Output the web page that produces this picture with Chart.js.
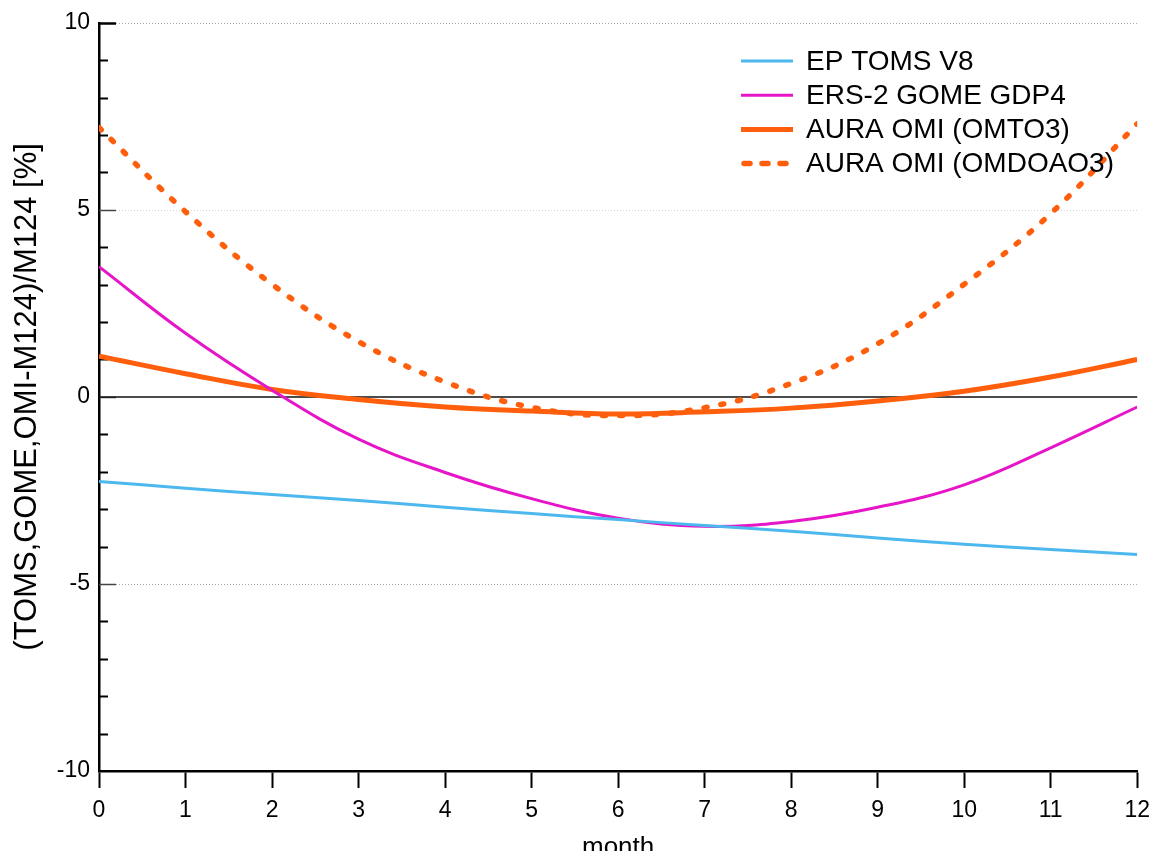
<!DOCTYPE html>
<html>
<head>
<meta charset="utf-8">
<script src="https://cdn.jsdelivr.net/npm/chart.js"></script>
<style>
  html, body { margin: 0; padding: 0; background: #fff; }
  canvas { display: block; }
</style>
</head>
<body>
<canvas id="chart" width="1159" height="851"></canvas>
<script>
// month of year
const months = [0, 1, 2, 3, 4, 5, 6, 7, 8, 9, 10, 11, 12];

// relative differences in %
const tomsV8  = [-2.26, -2.44, -2.61, -2.77, -2.95, -3.12, -3.28, -3.44, -3.59, -3.77, -3.94, -4.08, -4.21];
const gomeGdp4 = [3.48, 1.70, 0.18, -1.13, -2.02, -2.72, -3.24, -3.46, -3.33, -2.95, -2.35, -1.36, -0.27];
const omto3   = [1.09, 0.62, 0.20, -0.07, -0.27, -0.38, -0.46, -0.40, -0.30, -0.11, 0.15, 0.53, 1.00];
const omdoao3 = [7.20, 4.95, 3.01, 1.48, 0.40, -0.28, -0.50, -0.29, 0.36, 1.42, 3.01, 4.90, 7.30];

const yTicks = [-10, -5, 0, 5, 10];

const FONT = '"Liberation Sans", Arial, Helvetica, sans-serif';

function pts(vals) {
  return months.map((m, i) => ({x: m, y: vals[i]}));
}

// y axis: dotted grid, zero line and inward minor/major ticks
const yDecor = {
  id: 'yDecor',
  beforeDatasetsDraw(chart) {
    const ctx = chart.ctx;
    const y = chart.scales.y;
    const a = chart.chartArea;
    ctx.save();
    for (let v = -9; v <= 10; v++) {
      const py = Math.round(y.getPixelForValue(v)) + 0.5;
      const major = v % 5 === 0;
      if (major && v !== 0) {
        ctx.setLineDash([1, 2]);
        ctx.strokeStyle = v === 5 ? '#d4d4d4' : '#a8a8a8';
        ctx.lineWidth = 1;
        ctx.beginPath();
        ctx.moveTo(a.left + 17, py);
        ctx.lineTo(a.right, py);
        ctx.stroke();
        ctx.setLineDash([]);
      }
      ctx.strokeStyle = v === 10 ? '#000' : (major ? '#444' : '#000');
      ctx.lineWidth = v === 10 ? 2.5 : (major ? 1.5 : 2);
      ctx.beginPath();
      ctx.moveTo(a.left, py);
      ctx.lineTo(a.left + (major ? 17 : 9), py);
      ctx.stroke();
    }
    const p0 = y.getPixelForValue(0);
    ctx.strokeStyle = '#111';
    ctx.lineWidth = 1.5;
    ctx.beginPath();
    ctx.moveTo(a.left, p0);
    ctx.lineTo(a.right, p0);
    ctx.stroke();
    ctx.restore();
  }
};

// legend in the top right corner of the plot
const cornerLegend = {
  id: 'cornerLegend',
  afterDatasetsDraw(chart) {
    const ctx = chart.ctx;
    const x0 = 741, x1 = 793, tx = 806, top = 61, step = 34.2;
    ctx.save();
    ctx.font = '28px ' + FONT;
    ctx.textBaseline = 'middle';
    ctx.fillStyle = '#000';
    chart.data.datasets.forEach((ds, i) => {
      const yy = top + i * step;
      const dashed = ds.borderDash && ds.borderDash.length;
      ctx.strokeStyle = ds.borderColor;
      ctx.lineWidth = ds.borderWidth;
      ctx.setLineDash(dashed ? [6, 12] : []);
      ctx.lineCap = dashed ? 'round' : 'butt';
      ctx.beginPath();
      ctx.moveTo(dashed ? x0 + 3 : x0, yy);
      ctx.lineTo(x1, yy);
      ctx.stroke();
      ctx.fillText(ds.label, tx, yy + 1);
    });
    ctx.restore();
  }
};

new Chart(document.getElementById('chart'), {
  type: 'line',
  data: {
    datasets: [
      {
        label: 'EP TOMS V8',
        data: pts(tomsV8),
        borderColor: '#4cb8ee',
        borderWidth: 3
      },
      {
        label: 'ERS-2 GOME GDP4',
        data: pts(gomeGdp4),
        borderColor: '#e616c8',
        borderWidth: 3
      },
      {
        label: 'AURA OMI (OMTO3)',
        data: pts(omto3),
        borderColor: '#ff5f0c',
        borderWidth: 5
      },
      {
        label: 'AURA OMI (OMDOAO3)',
        data: pts(omdoao3),
        borderColor: '#ff5f0c',
        borderWidth: 5.5,
        borderDash: [3, 14],
        borderCapStyle: 'round'
      }
    ]
  },
  options: {
    responsive: false,
    animation: false,
    devicePixelRatio: 1,
    layout: { padding: { top: 19, right: 21, bottom: 0, left: 0 } },
    elements: {
      point: { radius: 0 },
      line: { tension: 0.4, fill: false }
    },
    plugins: {
      legend: { display: false },
      tooltip: { enabled: false }
    },
    scales: {
      x: {
        type: 'linear',
        min: 0,
        max: 12,
        afterFit: s => { s.height = 80; },
        ticks: {
          stepSize: 1,
          color: '#000',
          padding: 9,
          maxRotation: 0,
          font: { family: FONT, size: 23 }
        },
        grid: {
          drawOnChartArea: false,
          drawTicks: true,
          tickLength: 17,
          tickWidth: 2,
          tickColor: '#000',
          color: '#000'
        },
        border: { display: true, color: '#000', width: 2.5 },
        title: {
          display: true,
          text: 'month',
          color: '#000',
          padding: 0,
          font: { family: FONT, size: 26, lineHeight: 0.25 }
        }
      },
      y: {
        min: -10,
        max: 10,
        afterFit: s => { s.width = 99; },
        afterBuildTicks: s => { s.ticks = yTicks.map(v => ({value: v})); },
        ticks: {
          color: '#000',
          padding: 9,
          font: { family: FONT, size: 23 }
        },
        grid: { display: false, drawTicks: false },
        border: { display: true, color: '#000', width: 2.5 },
        title: {
          display: true,
          text: '(TOMS,GOME,OMI-M124)/M124 [%]',
          color: '#000',
          padding: { top: 11, bottom: 0 },
          font: { family: FONT, size: 31, lineHeight: 1.05 }
        }
      }
    }
  },
  plugins: [yDecor, cornerLegend]
});
</script>
</body>
</html>
